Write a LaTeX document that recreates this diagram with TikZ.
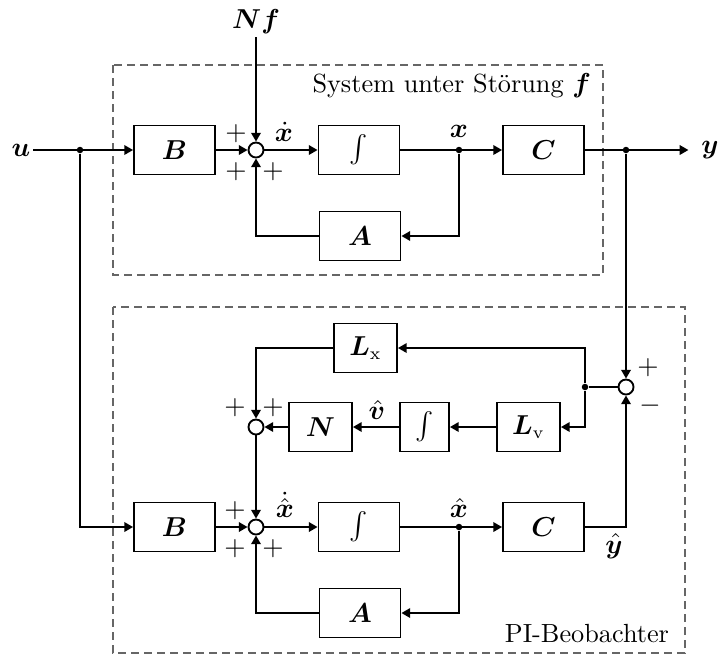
\documentclass[tikz,border=0pt]{standalone}
\usepackage{amsmath,bm}
\usetikzlibrary{arrows.meta,calc}
\tikzset{
  blk/.style={draw,line width=0.75pt,minimum width=32.4pt,minimum height=19.6pt,inner sep=0pt},
  sblk/.style={blk,minimum width=25.2pt},
  iblk/.style={blk,minimum width=19.6pt},
  sumc/.style={draw,circle,line width=0.75pt,minimum size=6pt,inner sep=0pt},
  dotn/.style={circle,fill,minimum size=2.6pt,inner sep=0pt},
  conn/.style={line width=0.75pt},
  arr/.style={conn,-{Triangle[length=3.5pt,width=3.8pt]}},
  frame/.style={draw=black!60,line width=0.5pt,dash pattern=on 3.2pt off 2pt},
  lbl/.style={inner sep=1pt},
}
\begin{document}
\begin{tikzpicture}[x=0.4pt,y=-0.4pt,font=\fontsize{10.5}{12.6}\selectfont]
\useasboundingbox (0,0) rectangle (718,655);
% frames
\draw[frame] (113,65) rectangle (603,275);
\draw[frame] (113,307) rectangle (685,653);
\node[anchor=east,lbl] (systxt) at (594,86) {System unter Störung $\bm{f}$};
\node[anchor=east,lbl] (pitxt) at (672,634) {PI-Beobachter};
% top system
\node[lbl] (u) at (21,150) {$\bm{u}$};
\node[dotn] (dot1) at (80,150) {};
\node[blk] (B1) at (174.5,150) {$\bm{B}$};
\node[sumc] (S1) at (256,150) {};
\node[blk] (I1) at (359,150) {$\int$};
\node[dotn] (dot2) at (459,150) {};
\node[blk] (C1) at (543.5,150) {$\bm{C}$};
\node[dotn] (dot3) at (626,150) {};
\node[lbl,inner sep=5pt] (y) at (710,150) {$\bm{y}$};
\node[blk] (A1) at (360,236) {$\bm{A}$};
\node[lbl] (Nf) at (256,22) {$\bm{N}\bm{f}$};
\node[lbl] (xd) at (284,132) {$\dot{\bm{x}}$};
\node[lbl] (xl) at (459,131) {$\bm{x}$};
\node[lbl] (p1) at (236,134) {$+$};
\node[lbl] (p2) at (236,172) {$+$};
\node[lbl] (p3) at (273,172) {$+$};
\draw[arr] (u) -- (B1);
\draw[arr] (Nf) -- (S1);
\draw[arr] (B1) -- (S1);
\draw[arr] (S1) -- (I1);
\draw[arr] (I1) -- (C1);
\draw[arr] (C1) -- (y);
\draw[arr] (dot2) |- (A1);
\draw[arr] (A1) -| (S1);
% observer
\node[sumc] (S3) at (626,387) {};
\node[dotn] (dot5) at (585,387) {};
\node[sblk] (Lx) at (365.5,348) {$\bm{L}_{\mathrm{x}}$};
\node[sblk] (Lv) at (528.5,427) {$\bm{L}_{\mathrm{v}}$};
\node[iblk] (I2) at (424.5,427) {$\int$};
\node[sblk] (N) at (320.5,427) {$\bm{N}$};
\node[sumc] (S2) at (256,427) {};
\node[lbl] (vh) at (377,410) {$\hat{\bm{v}}$};
\node[lbl] (p4) at (235,408) {$+$};
\node[lbl] (p5) at (273,408) {$+$};
\node[lbl] (p6) at (648,368) {$+$};
\node[lbl] (m1) at (650,406) {$-$};
\draw[arr] (dot3) -- (S3);
\draw[conn] (S3) -- (dot5);
\draw[arr] (dot5) |- (Lx);
\draw[arr] (dot5) |- (Lv);
\draw[arr] (Lv) -- (I2);
\draw[arr] (I2) -- (N);
\draw[arr] (N) -- (S2);
\draw[arr] (Lx) -| (S2);
% bottom row
\node[blk] (B2) at (174.5,527) {$\bm{B}$};
\node[sumc] (S4) at (256,527) {};
\node[blk] (I3) at (359,527) {$\int$};
\node[dotn] (dot4) at (459,527) {};
\node[blk] (C2) at (543.5,527) {$\bm{C}$};
\node[blk] (A2) at (360,613) {$\bm{A}$};
\node[lbl] (xhd) at (285,505) {$\dot{\hat{\bm{x}}}$};
\node[lbl] (xh) at (459,508) {$\hat{\bm{x}}$};
\node[lbl] (yh) at (614,546) {$\hat{\bm{y}}$};
\node[lbl] (p7) at (235,511) {$+$};
\node[lbl] (p8) at (235,549) {$+$};
\node[lbl] (p9) at (273,549) {$+$};
\draw[arr] (dot1) |- (B2);
\draw[arr] (S2) -- (S4);
\draw[arr] (B2) -- (S4);
\draw[arr] (S4) -- (I3);
\draw[arr] (I3) -- (C2);
\draw[arr] (dot4) |- (A2);
\draw[arr] (A2) -| (S4);
\draw[arr] (C2) -| (S3);
\end{tikzpicture}
\end{document}
